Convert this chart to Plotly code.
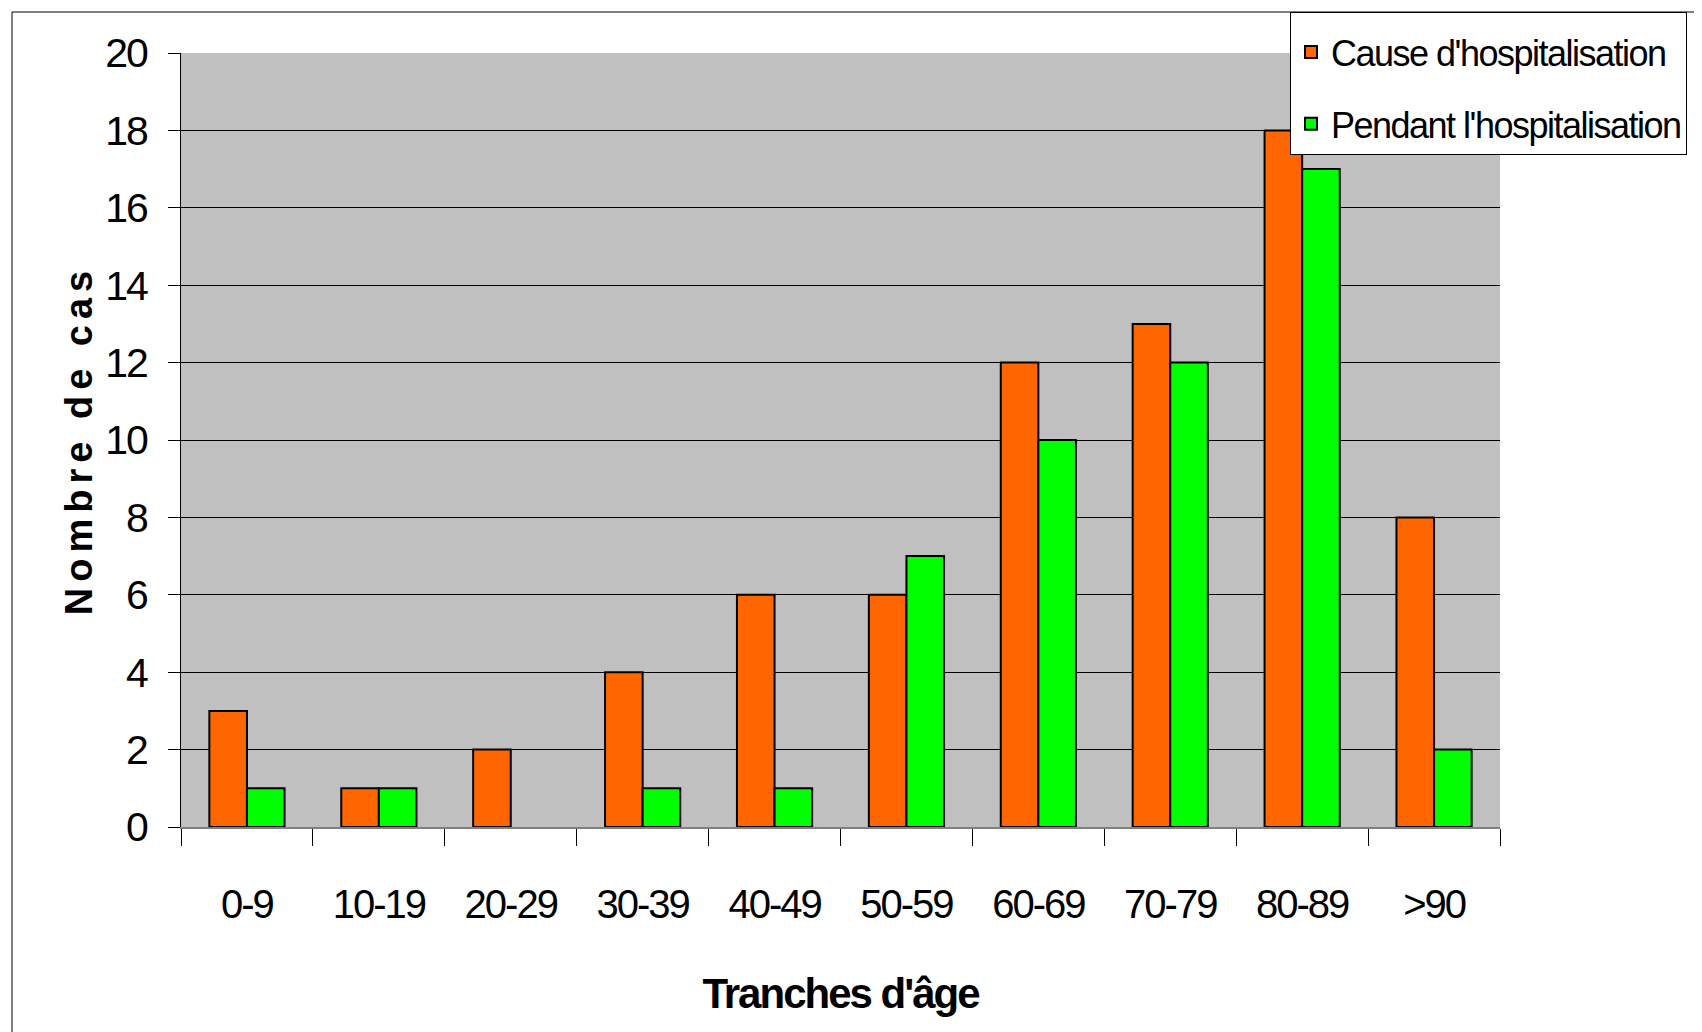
import plotly.graph_objects as go

categories = ["0-9", "10-19", "20-29", "30-39", "40-49", "50-59", "60-69", "70-79", "80-89", ">90"]
cause_hosp = [3, 1, 2, 4, 6, 6, 12, 13, 18, 8]
pendant_hosp = [1, 1, 0, 1, 1, 7, 10, 12, 17, 2]
y_ticks = [0, 2, 4, 6, 8, 10, 12, 14, 16, 18, 20]
series_names = ["Cause d'hospitalisation", "Pendant l'hospitalisation"]

FONT = "Liberation Sans, Arial, sans-serif"


def tight(s, px):
    return f"<span style='letter-spacing:{px}px'>{s}</span>"


fig = go.Figure()
for name, vals, col, grp in [(series_names[0], cause_hosp, "#FF6600", "a"),
                             (series_names[1], pendant_hosp, "#00FF00", "b")]:
    fig.add_trace(go.Bar(
        x=categories, y=vals, name=tight(name, -1.5), legendgroup=grp,
        marker=dict(color=col, line=dict(color="black", width=[0 if v == 0 else 2 for v in vals])),
    ))

# page has an 8px body margin: figure coords = page coords - 8
OFF = 8
W, H = 1702 - OFF, 1032 - OFF
L, T = 181 - OFF, 53 - OFF
R = W - (1500 - OFF)
B = H - (827 - OFF)
pw = W - L - R
ph = H - T - B


def px_x(page_x):
    return (page_x - OFF - L) / pw


def px_y(page_y):
    return (H - B - (page_y - OFF)) / ph


fig.update_layout(
    width=W, height=H,
    margin=dict(l=L, r=R, t=T, b=B, autoexpand=False),
    paper_bgcolor="white",
    plot_bgcolor="#C0C0C0",
    barmode="group",
    bargap=0.43,
    bargroupgap=0,
    font=dict(family=FONT, color="black", size=40),
    showlegend=True,
    legend=dict(
        x=px_x(1290), xanchor="left",
        y=px_y(12), yanchor="top",
        bgcolor="white", bordercolor="black", borderwidth=1,
        font=dict(family=FONT, size=36, color="black"),
        itemwidth=30,
        tracegroupgap=22,
        title=dict(text=" ", font=dict(size=7)),
    ),
    xaxis=dict(
        type="category",
        tickvals=categories, ticktext=[tight(c, -2) for c in categories],
        showline=True, linecolor="#808080", linewidth=2,
        ticks="outside", tickson="boundaries", ticklen=17, tickcolor="black", tickwidth=1,
        tickfont=dict(family=FONT, size=40, color="black"),
        ticklabelstandoff=41,
        showgrid=False, zeroline=False,
        automargin=False,
        title=dict(text="<b>" + tight("Tranches d'âge", -2) + "</b>",
                   font=dict(family=FONT, size=42, color="black"), standoff=54),
    ),
    yaxis=dict(
        range=[0, 20], tickvals=y_ticks, ticktext=[tight(str(v), -2) for v in y_ticks],
        showline=True, linecolor="black", linewidth=1,
        ticks="outside", ticklen=12, tickcolor="black", tickwidth=1,
        tickfont=dict(family=FONT, size=41, color="black"),
        ticklabelstandoff=13,
        showgrid=True, gridcolor="black", gridwidth=1,
        zeroline=False,
        automargin=False,
        title=dict(text="<b>" + tight("Nombre de cas", 6) + "</b>",
                   font=dict(family=FONT, size=38, color="black"), standoff=0),
    ),
    shapes=[dict(
        type="rect", xref="paper", yref="paper",
        x0=px_x(12), x1=1.5,
        y0=px_y(12), y1=-0.6,
        line=dict(color="black", width=1), fillcolor="rgba(0,0,0,0)", layer="below",
    )],
)

fig.write_html("out.html")
